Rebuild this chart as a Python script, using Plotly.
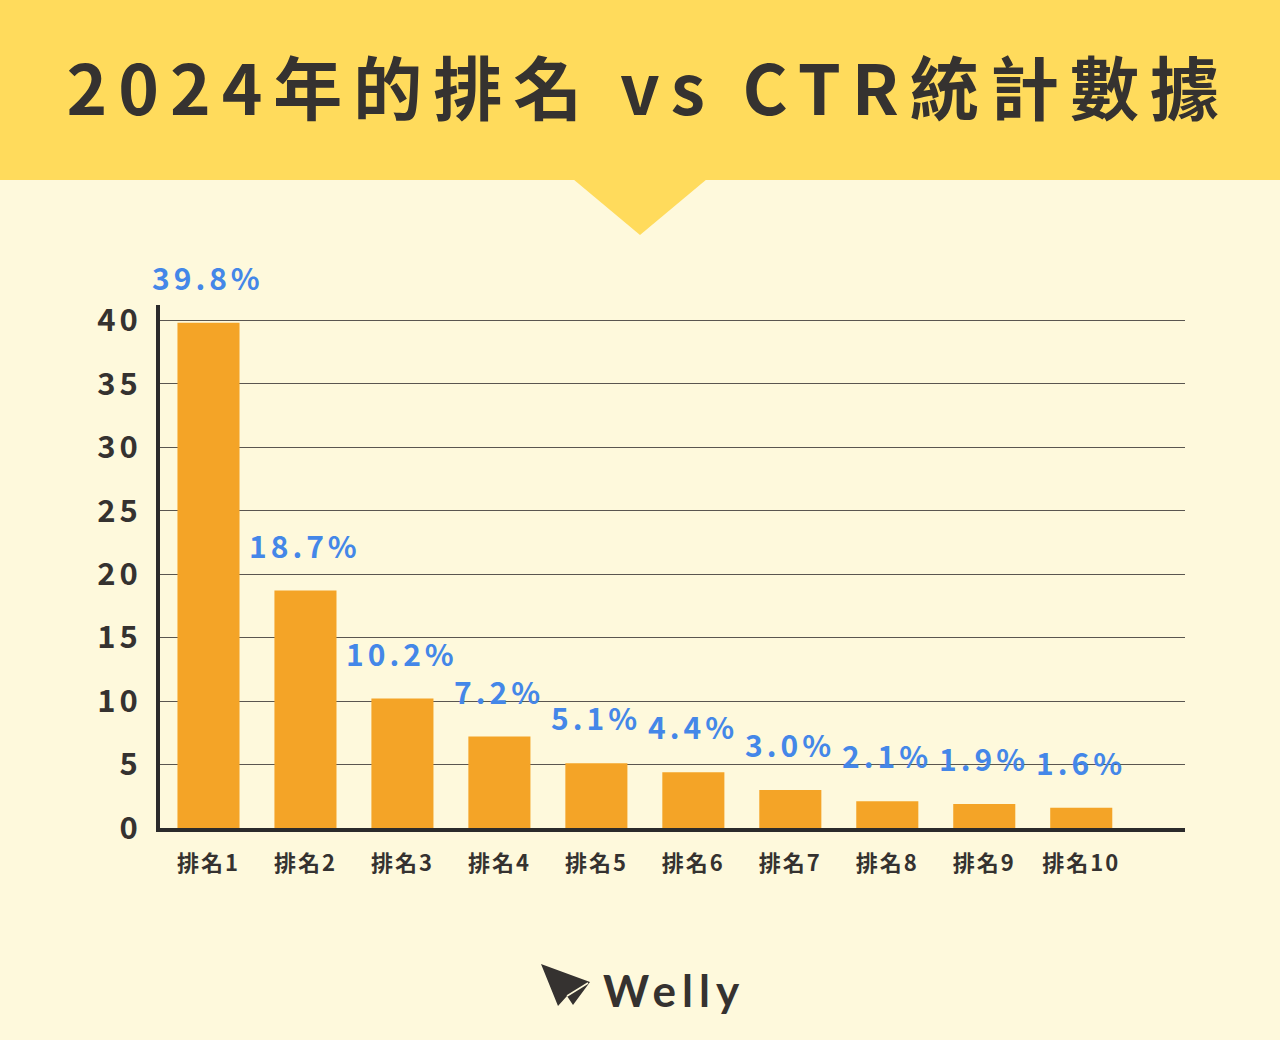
import plotly.graph_objects as go

# data
categories = ["排名1", "排名2", "排名3", "排名4", "排名5",
              "排名6", "排名7", "排名8", "排名9", "排名10"]
ctr_values = [39.8, 18.7, 10.2, 7.2, 5.1, 4.4, 3.0, 2.1, 1.9, 1.6]
y_ticks = [0, 5, 10, 15, 20, 25, 30, 35, 40]

TITLE = "2024年的排名 vs CTR統計數據"
BRAND = "Welly"

W, H = 1280, 1040
PLOT_L, PLOT_R, PLOT_T, PLOT_B = 160, 1185, 305, 828

BANNER = "#FFDB5C"
CREAM = "#FEF9DC"
ORANGE = "#F4A427"
DARK = "#353230"
BLUE = "#4487E8"
FONT = "Noto Sans CJK TC"


def px(x):
    return (x - PLOT_L) / (PLOT_R - PLOT_L)


def py(y):
    return (PLOT_B - y) / (PLOT_B - PLOT_T)


fig = go.Figure()

fig.add_trace(go.Bar(
    x=categories,
    y=ctr_values,
    marker=dict(color=ORANGE, line=dict(width=0)),
    width=0.64,
    hoverinfo="skip",
))

# value labels above bars
for cat, v in zip(categories, ctr_values):
    fig.add_annotation(
        x=cat, y=v, text=f"{v:.1f}%",
        showarrow=False, yanchor="bottom", yshift=22,
        font=dict(family=FONT, size=30, color=BLUE, weight="bold"),
    )

# banner + pointer
fig.add_shape(type="rect", xref="paper", yref="paper",
              x0=px(0), x1=px(W), y0=py(180), y1=py(0),
              fillcolor=BANNER, line_width=0, layer="below")
fig.add_shape(type="path", xref="paper", yref="paper",
              path=f"M {px(573)},{py(179)} L {px(707)},{py(179)} L {px(640)},{py(235)} Z",
              fillcolor=BANNER, line_width=0, layer="below")

fig.add_annotation(
    xref="paper", yref="paper", x=px(648), y=py(85),
    text=TITLE, showarrow=False, xanchor="center", yanchor="middle",
    font=dict(family=FONT, size=69, color=DARK, weight="bold"),
)

# logo
fig.add_shape(type="path", xref="paper", yref="paper",
              path=(f"M {px(541)},{py(964)} L {px(590)},{py(982)} "
                    f"L {px(573)},{py(1005)} L {px(567)},{py(996)} "
                    f"L {px(558)},{py(1006)} Z"),
              fillcolor=DARK, line_width=0)
fig.add_shape(type="line", xref="paper", yref="paper",
              x0=px(567), y0=py(996), x1=px(588), y1=py(983),
              line=dict(color=CREAM, width=1.5))
fig.add_annotation(
    xref="paper", yref="paper", x=px(674), y=py(990),
    text=BRAND, showarrow=False, xanchor="center", yanchor="middle",
    font=dict(family="Lato", size=44, color=DARK, weight="bold"),
)

fig.update_layout(
    width=W, height=H,
    paper_bgcolor=CREAM, plot_bgcolor=CREAM,
    margin=dict(l=PLOT_L, r=W - PLOT_R, t=PLOT_T, b=H - PLOT_B),
    showlegend=False,
    bargap=0.36,
    xaxis=dict(
        range=[-0.5, 10.07],
        showline=True, linewidth=4, linecolor="#2B2B2B",
        showgrid=False, ticks="",
        tickfont=dict(family=FONT, size=22, color=DARK, weight="bold"),
        ticklabelstandoff=13,
    ),
    yaxis=dict(
        range=[0, 41.2],
        tickvals=y_ticks,
        showline=True, linewidth=4, linecolor="#2B2B2B",
        showgrid=True, gridcolor="#5A5650", gridwidth=1,
        zeroline=False, ticks="",
        tickfont=dict(family=FONT, size=31, color=DARK, weight="bold"),
        ticklabelstandoff=8,
    ),
)

# letter spacing is not a plotly font option, so it is set on the svg text
post_js = """
document.body.style.margin = '0';
var gd = document.getElementById('{plot_id}');
function spaceText() {
    gd.querySelectorAll('.annotation-text').forEach(function (t) {
        var s = t.textContent;
        if (s === '%s') t.style.letterSpacing = '11px';
        else if (s === '%s') t.style.letterSpacing = '6px';
        else t.style.letterSpacing = '4px';
    });
    gd.querySelectorAll('.ytick text').forEach(function (t) {
        t.style.letterSpacing = '4px';
    });
    gd.querySelectorAll('.xtick text').forEach(function (t) {
        t.style.letterSpacing = '2px';
    });
}
spaceText();
gd.on('plotly_afterplot', spaceText);
""" % (TITLE, BRAND)

fig.write_html("out.html", config={"displayModeBar": False}, post_script=post_js)
